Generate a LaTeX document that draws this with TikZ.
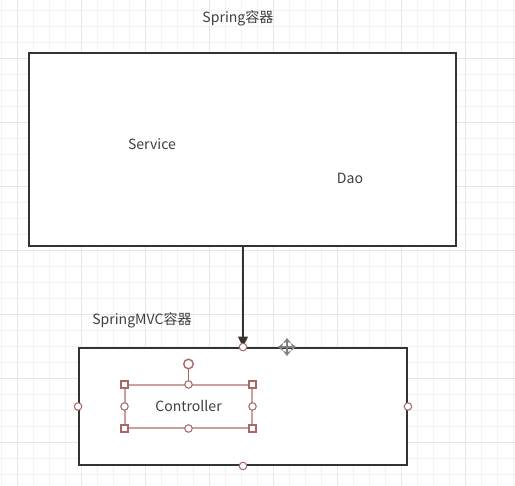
\documentclass[tikz,border=0pt]{standalone}
\usepackage{fontspec}
\setmainfont{Noto Sans CJK SC}
\usetikzlibrary{positioning, arrows.meta}
\definecolor{linegray}{RGB}{51,51,51}
\definecolor{textgray}{RGB}{64,64,64}
\definecolor{gridminor}{RGB}{243,243,243}
\definecolor{gridmajor}{RGB}{230,230,230}
\definecolor{handlered}{RGB}{168,104,104}
\definecolor{selred}{RGB}{205,160,160}

\begin{document}
\begin{tikzpicture}[x=0.02cm, y=-0.02cm,
			font=\fontsize{8}{10}\selectfont, text=textgray,
			container/.style={draw=linegray, line width=1.1pt, inner sep=0pt},
			selection/.style={draw=selred, line width=0.6pt, minimum width=2.54cm, minimum height=0.86cm, inner sep=0pt},
			round handle/.style={circle, draw=handlered, fill=white, line width=0.6pt, inner sep=0pt, minimum size=0.15cm},
			square handle/.style={rectangle, draw=handlered, fill=white, line width=0.6pt, inner sep=0pt, minimum size=0.14cm},
			rotate handle/.style={round handle, line width=0.8pt, minimum size=0.19cm},
			link/.style={draw=linegray, line width=1.1pt, -{Triangle[length=6pt,width=5.5pt]}},
			mover/.style={draw=gray, line width=0.8pt, -{Stealth[length=3pt,width=4.5pt]}}]
			
			\useasboundingbox[fill=white] (0,0) rectangle (515,486);
			\foreach \i in {0,...,32} \draw[gridminor, line width=0.5pt] ({1+16*\i},0) -- ({1+16*\i},486);
			\foreach \j in {0,...,29} \draw[gridminor, line width=0.5pt] (0,{10.7+16*\j}) -- (515,{10.7+16*\j});
			\foreach \i in {0,...,7} \draw[gridmajor, line width=0.5pt] ({17+64*\i},0) -- ({17+64*\i},486);
			\foreach \j in {0,...,6} \draw[gridmajor, line width=0.5pt] (0,{58.7+64*\j}) -- (515,{58.7+64*\j});
			
			\node[container, fill=white, minimum width=8.54cm, minimum height=3.86cm] (spring) at (242.5,149.5) {};
			\node (springlabel) at (238,18) {Spring容器};
			\node (service) at (152,144) {Service};
			\node (dao) at (350,178) {Dao};
			
			\node[container, fill=white, minimum width=6.56cm, minimum height=2.34cm] (mvc) at (243,406.5) {};
			\node (mvclabel) at (142,320) {SpringMVC容器};
			\draw[link] (mvc.north |- spring.south) -- (mvc.north);
			
			\node[selection] (ctrl) at (188.5,406.5) {Controller};
			\node[rotate handle] (rot) at (188.5,364) {};
			\draw[handlered, line width=0.8pt] (rot) -- (ctrl.north);
			\foreach \a in {north,south,east,west} \node[round handle] (mvc-\a) at (mvc.\a) {};
			\foreach \a in {north,south,east,west} \node[round handle] (ctrl-\a) at (ctrl.\a) {};
			\foreach \a in {north east,north west,south east,south west} \node[square handle] (ctrl-\a) at (ctrl.\a) {};
			
			\coordinate (move) at (287,347);
			\foreach \ang in {0,90,180,270} \draw[mover] (move) -- ++(\ang:9);
		\end{tikzpicture}
\end{document}
